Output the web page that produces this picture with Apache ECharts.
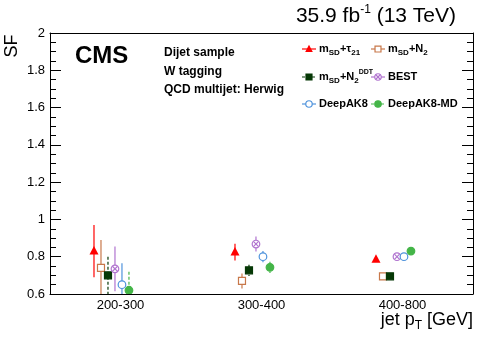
<!DOCTYPE html>
<html>
<head>
<meta charset="utf-8">
<script src="https://cdn.jsdelivr.net/npm/echarts@6/dist/echarts.min.js"></script>
<style>
  html, body { margin: 0; padding: 0; background: #fff; }
  #chart { width: 498px; height: 338px; }
</style>
</head>
<body>
<div id="chart"></div>
<script>
// jet pT bins
const bins = ['200-300', '300-400', '400-800']

// scale factors and their uncertainties, per tagger
const sfTau21 = [0.83, 0.825, 0.787]
const errTau21 = [0.14, 0.045, 0.008]
const sfN2 = [0.74, 0.67, 0.695]
const errN2 = [0.15, 0.04, 0.008]
const sfN2ddt = [0.70, 0.727, 0.695]
const errN2ddt = [0.10, 0.03, 0.008]
const sfBest = [0.735, 0.868, 0.80]
const errBest = [0.12, 0.04, 0.008]
const sfDeepAK8 = [0.65, 0.80, 0.80]
const errDeepAK8 = [0.115, 0.03, 0.008]
const sfDeepAK8MD = [0.62, 0.743, 0.83]
const errDeepAK8MD = [0.10, 0.03, 0.008]

const yMin = 0.6
const yMax = 2
const yStep = 0.2

const FONT = 'Liberation Sans, Arial, sans-serif'

// legend labels (rich text) + drawing style for each tagger
const taggers = [
  { name: 'mSD+tau21', label: '{n|m}{s|SD}{n|+τ}{s|21}', sf: sfTau21, err: errTau21, color: '#ff0000', marker: 'triangle', dashed: false },
  { name: 'mSD+N2', label: '{n|m}{s|SD}{n|+N}{s|2}', sf: sfN2, err: errN2, color: '#c8784a', marker: 'openSquare', dashed: false },
  { name: 'mSD+N2DDT', label: '{n|m}{s|SD}{n|+N}{s|2}{p|DDT}', sf: sfN2ddt, err: errN2ddt, color: '#063806', marker: 'square', dashed: true },
  { name: 'BEST', label: '{n|BEST}', sf: sfBest, err: errBest, color: '#b073cf', marker: 'crossCircle', dashed: false },
  { name: 'DeepAK8', label: '{n|DeepAK8}', sf: sfDeepAK8, err: errDeepAK8, color: '#4f93dc', marker: 'openCircle', dashed: false },
  { name: 'DeepAK8-MD', label: '{n|DeepAK8-MD}', sf: sfDeepAK8MD, err: errDeepAK8MD, color: '#44b548', marker: 'circle', dashed: true }
]

// marker shapes, shared by the plot and the hand-drawn legend
function makeMarker (kind, cx, cy, color, k) {
  const lw = 1.2
  const f = k || 1
  if (kind === 'triangle') {
    return [{ type: 'polygon', shape: { points: [[cx, cy - 5 * f], [cx - 4.5 * f, cy + 3.5 * f], [cx + 4.5 * f, cy + 3.5 * f]] }, style: { fill: color } }]
  }
  if (kind === 'openSquare' || kind === 'square') {
    const h = 3.5 * f
    return [{ type: 'rect', shape: { x: cx - h, y: cy - h, width: 2 * h, height: 2 * h }, style: { fill: kind === 'square' ? color : '#fff', stroke: color, lineWidth: lw } }]
  }
  if (kind === 'crossCircle') {
    const d = 2.6 * f
    return [
      { type: 'circle', shape: { cx: cx, cy: cy, r: 3.8 * f }, style: { fill: '#fff', stroke: color, lineWidth: lw } },
      { type: 'line', shape: { x1: cx - d, y1: cy - d, x2: cx + d, y2: cy + d }, style: { stroke: color, lineWidth: lw } },
      { type: 'line', shape: { x1: cx - d, y1: cy + d, x2: cx + d, y2: cy - d }, style: { stroke: color, lineWidth: lw } }
    ]
  }
  return [{ type: 'circle', shape: { cx: cx, cy: cy, r: 3.8 * f }, style: { fill: kind === 'circle' ? color : '#fff', stroke: color, lineWidth: lw } }]
}

// horizontal placement of each tagger inside a bin (in bin units)
const firstOffset = 0.312
const offsetStep = 0.0496

const series = taggers.map((t, k) => ({
  type: 'custom',
  name: t.name,
  xAxisIndex: 2,
  yAxisIndex: 0,
  clip: true,
  data: bins.map((b, i) => [i + firstOffset + k * offsetStep, t.sf[i], t.err[i]]),
  renderItem (params, api) {
    const x = api.value(0)
    const v = api.value(1)
    const e = api.value(2)
    const c = api.coord([x, v])
    const top = api.coord([x, v + e])
    const bot = api.coord([x, v - e])
    return {
      type: 'group',
      children: [
        { type: 'line', shape: { x1: top[0], y1: top[1], x2: bot[0], y2: bot[1] }, style: { stroke: t.color, lineWidth: 1.2, lineDash: t.dashed ? [3, 2] : null } }
      ].concat(makeMarker(t.marker, c[0], c[1], t.color))
    }
  }
}))

// legend, 2 columns x 3 rows
const legendCols = [309, 378]
const legendRows = [49, 77, 104]
const legendRich = {
  n: { fontFamily: FONT, fontSize: 11, fontWeight: 'bold', color: '#000' },
  s: { fontFamily: FONT, fontSize: 8, fontWeight: 'bold', color: '#000', padding: [8, 0, 0, 0] },
  p: { fontFamily: FONT, fontSize: 7, fontWeight: 'bold', color: '#000', padding: [0, 0, 9, 0] }
}
const legendItems = []
taggers.forEach((t, k) => {
  const lx = legendCols[k % 2]
  const ly = legendRows[Math.floor(k / 2)]
  legendItems.push({ type: 'line', shape: { x1: lx - 7, y1: ly, x2: lx + 7, y2: ly }, style: { stroke: t.color, lineWidth: 1.2, lineDash: t.dashed ? [3, 2] : null } })
  makeMarker(t.marker, lx, ly, t.color, 0.85).forEach(m => legendItems.push(m))
  legendItems.push({ type: 'text', x: lx + 10, y: ly, style: { text: t.label, rich: legendRich, verticalAlign: 'middle', align: 'left' } })
})

const infoLines = ['Dijet sample', 'W tagging', 'QCD multijet: Herwig']
const infoY = [53, 72, 90]

const chart = echarts.init(document.getElementById('chart'), null, { renderer: 'canvas' })
chart.setOption({
  animation: false,
  backgroundColor: '#fff',
  grid: { left: 50, right: 25, top: 33, bottom: 44 },
  xAxis: [
    {
      type: 'category',
      position: 'bottom',
      data: bins,
      boundaryGap: true,
      axisLine: { lineStyle: { color: '#000', width: 1 } },
      axisTick: { inside: true, length: 8, lineStyle: { color: '#000' } },
      axisLabel: { fontFamily: FONT, fontSize: 13, color: '#000', margin: 5 },
      splitLine: { show: false }
    },
    {
      type: 'category',
      position: 'top',
      data: bins,
      boundaryGap: true,
      axisLine: { lineStyle: { color: '#000', width: 1 } },
      axisTick: { inside: true, length: 8, lineStyle: { color: '#000' } },
      axisLabel: { show: false },
      splitLine: { show: false }
    },
    { type: 'value', min: 0, max: 3, show: false }
  ],
  yAxis: [
    {
      type: 'value',
      position: 'left',
      min: yMin,
      max: yMax,
      interval: yStep,
      axisLine: { show: true, lineStyle: { color: '#000', width: 1 } },
      axisTick: { show: true, inside: true, length: 11, lineStyle: { color: '#000' } },
      minorTick: { show: true, splitNumber: 4, length: 6, lineStyle: { color: '#000' } },
      axisLabel: { fontFamily: FONT, fontSize: 13, color: '#000', margin: 5 },
      splitLine: { show: false }
    },
    {
      type: 'value',
      position: 'right',
      min: yMin,
      max: yMax,
      interval: yStep,
      axisLine: { show: true, lineStyle: { color: '#000', width: 1 } },
      axisTick: { show: true, inside: true, length: 11, lineStyle: { color: '#000' } },
      minorTick: { show: true, splitNumber: 4, length: 6, lineStyle: { color: '#000' } },
      axisLabel: { show: false },
      splitLine: { show: false }
    }
  ],
  series: series,
  graphic: [
    // CMS label
    { type: 'text', x: 75, y: 56, style: { text: 'CMS', fontFamily: FONT, fontSize: 24, fontWeight: 'bold', fill: '#000', verticalAlign: 'middle' } },
    // lumi label
    {
      type: 'text', x: 456, y: 16,
      style: {
        text: '{n|35.9 fb}{p|-1}{n| (13 TeV)}',
        align: 'right', verticalAlign: 'middle',
        rich: {
          n: { fontFamily: FONT, fontSize: 21, color: '#000' },
          p: { fontFamily: FONT, fontSize: 12, color: '#000', padding: [0, 0, 13, 0] }
        }
      }
    },
    // y title
    { type: 'text', x: 12, y: 46, rotation: Math.PI / 2, style: { text: 'SF', fontFamily: FONT, fontSize: 18, fill: '#000', align: 'center', verticalAlign: 'middle' } },
    // x title
    {
      type: 'text', x: 473, y: 320,
      style: {
        text: '{n|jet p}{s|T}{n| [GeV]}',
        align: 'right', verticalAlign: 'middle',
        rich: {
          n: { fontFamily: FONT, fontSize: 18, color: '#000' },
          s: { fontFamily: FONT, fontSize: 12, color: '#000', padding: [12, 0, 0, 0] }
        }
      }
    }
  ].concat(infoLines.map((txt, i) => ({
    type: 'text', x: 164, y: infoY[i],
    style: { text: txt, fontFamily: FONT, fontSize: 12, fontWeight: 'bold', fill: '#000', verticalAlign: 'middle' }
  }))).concat(legendItems)
})
</script>
</body>
</html>
